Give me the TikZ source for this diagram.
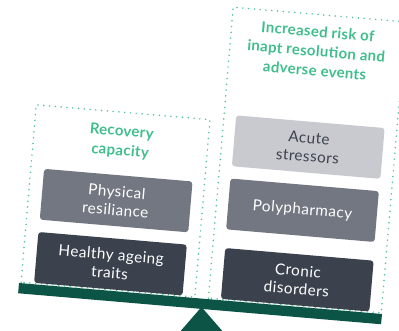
\documentclass[tikz,border=0pt]{standalone}
\usepackage{fontspec}
\setmainfont{Lato}
\newfontfamily\boxfont[LetterSpace=3]{Lato}
\newfontfamily\titlefont[LetterSpace=2]{Lato Bold}
\definecolor{beamcol}{HTML}{0B5446}
\definecolor{titlegreen}{HTML}{40BE8B}
\definecolor{dotgreen}{HTML}{4EC493}
\definecolor{darkbox}{HTML}{3B424E}
\definecolor{midbox}{HTML}{737781}
\definecolor{lightbox}{HTML}{C9CACF}
\tikzset{
  frame/.style={draw=dotgreen, line width=1.7pt, dash pattern=on 0pt off 5.8pt, line cap=round},
  box/.style={rounded corners=3pt, minimum width=149pt, minimum height=51pt, inner sep=0pt,
    align=center, font=\boxfont\fontsize{15.3}{18.5}\selectfont, text=white},
  title/.style={align=center, text=titlegreen, font=\titlefont\fontsize{15}{19.5}\selectfont},
}
\begin{document}
\begin{tikzpicture}[x=1pt,y=1pt]
\useasboundingbox (0,-330) rectangle (399,0);
\clip (0,-330) rectangle (399,0);
\fill[beamcol] (201.5,-307) -- (172.8,-340) -- (230.2,-340) -- cycle;
\begin{scope}[shift={(19,-283)}, rotate=-4.88, transform shape]
  \draw[frame] (2,1) rectangle (176.4,179);
  \draw[frame] (190,1) rectangle (363.5,293);
  \node[title] (ltitle) at (89.5,149.5) {Recovery\\capacity};
  \node[title] (rtitle) at (276.5,256.5) {Increased risk of\\inapt resolution and\\adverse events};
  \node[box, fill=darkbox] (healthy) at (89.5,27) {Healthy ageing\\traits};
  \node[box, fill=midbox] (physical) at (89.8,90.4) {Physical\\resiliance};
  \node[box, fill=darkbox] (cronic) at (277,26.9) {Cronic\\disorders};
  \node[box, fill=midbox] (poly) at (276.3,96.6) {Polypharmacy};
  \node[box, fill=lightbox, text=darkbox] (acute) at (276.7,160) {Acute\\stressors};
  \fill[beamcol] (0,0) rectangle (364.3,-10.3);
\end{scope}
\end{tikzpicture}
\end{document}
